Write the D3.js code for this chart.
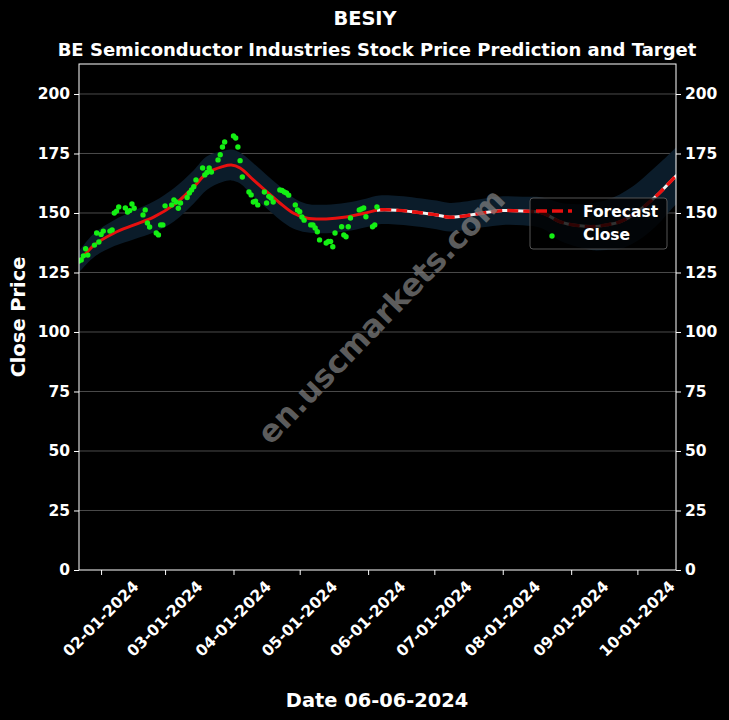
<!DOCTYPE html>
<html>
<head>
<meta charset="utf-8">
<script src="https://cdn.jsdelivr.net/npm/d3@7"></script>
<style>
  body { margin: 0; background: #000; }
  svg { display: block; }
  text { font-family: "DejaVu Sans", sans-serif; font-weight: bold; fill: #fff; }
</style>
</head>
<body>
<svg id="chart" width="729" height="720"></svg>
<script>
// observed closes (trading days)
const closeDates = [
  "2024-01-22","2024-01-23","2024-01-24","2024-01-25","2024-01-26","2024-01-29","2024-01-30","2024-01-31",
  "2024-02-01","2024-02-02","2024-02-05","2024-02-06","2024-02-07","2024-02-08","2024-02-09","2024-02-12",
  "2024-02-13","2024-02-14","2024-02-15","2024-02-16","2024-02-20","2024-02-21","2024-02-22","2024-02-23",
  "2024-02-26","2024-02-27","2024-02-28","2024-02-29",
  "2024-03-01","2024-03-04","2024-03-05","2024-03-06","2024-03-07","2024-03-08","2024-03-11","2024-03-12",
  "2024-03-13","2024-03-14","2024-03-15","2024-03-18","2024-03-19","2024-03-20","2024-03-21","2024-03-22",
  "2024-03-25","2024-03-26","2024-03-27","2024-03-28",
  "2024-04-01","2024-04-02","2024-04-03","2024-04-04","2024-04-05","2024-04-08","2024-04-09","2024-04-10",
  "2024-04-11","2024-04-12","2024-04-15","2024-04-16","2024-04-17","2024-04-18","2024-04-19","2024-04-22",
  "2024-04-23","2024-04-24","2024-04-25","2024-04-26","2024-04-29","2024-04-30",
  "2024-05-01","2024-05-02","2024-05-03","2024-05-06","2024-05-07","2024-05-08","2024-05-09","2024-05-10",
  "2024-05-13","2024-05-14","2024-05-15","2024-05-16","2024-05-17","2024-05-20","2024-05-21","2024-05-22",
  "2024-05-23","2024-05-24","2024-05-28","2024-05-29","2024-05-30","2024-05-31",
  "2024-06-03","2024-06-04","2024-06-05"
];
const closeValues = [
  129.8, 130.3, 132, 135, 132.3, 136.5, 141.6, 137.8,
  141, 142.4, 142.4, 142.9, 150, 150.8, 152.5, 152.1, 150.4, 151, 153.8, 152, 149.2, 151.3, 145.8, 144.1,
  141.6, 140.8, 145, 145,
  153, 153.4, 155.5, 154.6, 152, 154.2, 156.5, 158.4, 159.7, 161, 163.9, 168.9, 166, 167, 168.9, 167.2,
  172.3, 174.5, 177.7, 179.8,
  182.4, 181.5, 177.7, 172, 165.1, 158.8, 157.6, 154.6, 155, 153.4, 158.8, 154.2, 157, 156.3, 154.6, 159.7,
  159.5, 158.8, 158.4, 157.5, 153.4, 151.3,
  150.5, 148.3, 147, 145, 145, 143.7, 142.1, 138.7, 137.4, 138, 138, 135.8, 141.6, 144.2, 140.8, 140,
  144.2, 147.9, 151.3, 151.7, 152.1, 148.4,
  144.2, 145, 152.5
];

// smoothed fit + forecast
const forecastDates = [
  "2024-01-22","2024-01-29","2024-02-07","2024-02-16","2024-02-25","2024-03-05","2024-03-14","2024-03-20",
  "2024-03-27","2024-03-31","2024-04-04","2024-04-10","2024-04-16","2024-04-22","2024-04-28","2024-05-04",
  "2024-05-13","2024-05-22","2024-05-31","2024-06-06","2024-06-15","2024-06-23","2024-07-02","2024-07-08",
  "2024-07-14","2024-07-23","2024-08-01","2024-08-10","2024-08-19","2024-08-27","2024-09-04","2024-09-11",
  "2024-09-17","2024-09-23","2024-09-29","2024-10-05","2024-10-11","2024-10-17","2024-10-19"
];
const forecastValues = [
  129.5, 136.6, 141.6, 145, 148.4, 153.4, 161, 166.8,
  169.5, 170.2, 168.9, 163.9, 159, 154.2, 150, 147.9,
  147.5, 148.3, 150, 151.3, 151.1, 150.3, 149.2, 148.2,
  148.7, 150, 151, 150.8, 150, 146.3, 144.7, 144.3,
  145, 146.3, 149.2, 153.4, 158.4, 164.2, 166
];
const bandHalf = [
  4.5, 5, 5.5, 6, 6.5, 7, 7, 7,
  6.5, 6.5, 6.5, 7, 7, 7, 6.5, 6,
  6, 6, 6, 6, 6, 6, 6, 6,
  6, 6, 6, 6, 6.5, 8, 9, 10,
  10.5, 11.5, 12, 12.5, 12.5, 12, 12
];
const splitDate = "2024-06-05";

const yTicks = [0, 25, 50, 75, 100, 125, 150, 175, 200];
const xTickDates = ["2024-02-01","2024-03-01","2024-04-01","2024-05-01","2024-06-01",
                    "2024-07-01","2024-08-01","2024-09-01","2024-10-01"];
const xTickLabels = ["02-01-2024","03-01-2024","04-01-2024","05-01-2024","06-01-2024",
                     "07-01-2024","08-01-2024","09-01-2024","10-01-2024"];

const parse = d3.utcParse("%Y-%m-%d");
const margin = { top: 64, right: 53, bottom: 150, left: 79 };
const W = 729, H = 720;
const plotW = W - margin.left - margin.right;
const plotH = H - margin.top - margin.bottom;

const svg = d3.select("#chart");
svg.append("rect").attr("width", W).attr("height", H).attr("fill", "#000");

const x = d3.scaleUtc()
  .domain([parse("2024-01-22"), new Date(Date.UTC(2024, 9, 18, 12))])
  .range([margin.left, margin.left + plotW]);
const y = d3.scaleLinear()
  .domain([0, 212.6])
  .range([margin.top + plotH, margin.top]);

const defs = svg.append("defs");
defs.append("clipPath").attr("id", "plotClip").append("rect")
  .attr("x", margin.left).attr("y", margin.top).attr("width", plotW).attr("height", plotH);
const xs = x(parse(splitDate));
defs.append("clipPath").attr("id", "histClip").append("rect")
  .attr("x", margin.left).attr("y", margin.top).attr("width", xs - margin.left).attr("height", plotH);
defs.append("clipPath").attr("id", "fcClip").append("rect")
  .attr("x", xs).attr("y", margin.top).attr("width", margin.left + plotW - xs).attr("height", plotH);

// grid
svg.append("g").selectAll("line").data(yTicks.slice(1)).enter().append("line")
  .attr("x1", margin.left).attr("x2", margin.left + plotW)
  .attr("y1", d => y(d)).attr("y2", d => y(d))
  .attr("stroke", "#4a4a4a").attr("stroke-width", 1);

const fc = forecastDates.map((d, i) => ({ date: parse(d), value: forecastValues[i], half: bandHalf[i] }));
const plot = svg.append("g").attr("clip-path", "url(#plotClip)");

// confidence band
plot.append("path").datum(fc)
  .attr("fill", "#0b1c2a")
  .attr("d", d3.area().curve(d3.curveCatmullRom)
    .x(d => x(d.date)).y0(d => y(d.value - d.half)).y1(d => y(d.value + d.half)));

const line = d3.line().curve(d3.curveCatmullRom).x(d => x(d.date)).y(d => y(d.value));

// fitted line over history
plot.append("path").datum(fc).attr("clip-path", "url(#histClip)")
  .attr("fill", "none").attr("stroke", "#e8100f").attr("stroke-width", 3).attr("d", line);

// forecast: white under red dashes
const fg = plot.append("g").attr("clip-path", "url(#fcClip)");
fg.append("path").datum(fc).attr("fill", "none").attr("stroke", "#f2f2f2").attr("stroke-width", 3).attr("d", line);
fg.append("path").datum(fc).attr("fill", "none").attr("stroke", "#e8100f").attr("stroke-width", 3.4)
  .attr("stroke-dasharray", "11,5").attr("d", line);

// close points
plot.append("g").selectAll("circle").data(closeDates).enter().append("circle")
  .attr("cx", d => x(parse(d)))
  .attr("cy", (d, i) => y(closeValues[i]))
  .attr("r", 2.7).attr("fill", "#14f014");

// watermark
svg.append("text")
  .attr("x", 381).attr("y", 316)
  .attr("text-anchor", "middle").attr("dominant-baseline", "central")
  .attr("transform", "rotate(-46,381,316)")
  .style("font-size", "31px").style("fill", "#808080").style("opacity", 0.72)
  .text("en.uscmarkets.com");

// axes frame
svg.append("rect").attr("x", margin.left).attr("y", margin.top).attr("width", plotW).attr("height", plotH)
  .attr("fill", "none").attr("stroke", "#fff").attr("stroke-width", 1);

const yLeft = svg.append("g").attr("transform", `translate(${margin.left},0)`)
  .call(d3.axisLeft(y).tickValues(yTicks).tickSize(5).tickPadding(4));
const yRight = svg.append("g").attr("transform", `translate(${margin.left + plotW},0)`)
  .call(d3.axisRight(y).tickValues(yTicks).tickSize(5).tickPadding(4));
[yLeft, yRight].forEach(g => {
  g.select(".domain").remove();
  g.selectAll("line").attr("stroke", "#fff");
  g.selectAll("text").style("font-size", "15.5px").style("font-family", "DejaVu Sans").style("font-weight", "bold").attr("fill", "#fff");
});

const xAxis = svg.append("g").attr("transform", `translate(0,${margin.top + plotH})`)
  .call(d3.axisBottom(x).tickValues(xTickDates.map(parse)).tickSize(5).tickFormat(""));
xAxis.select(".domain").remove();
xAxis.selectAll("line").attr("stroke", "#fff");

svg.append("g").selectAll("text").data(xTickDates).enter().append("text")
  .attr("x", d => x(parse(d))).attr("y", 619)
  .attr("text-anchor", "middle").attr("dominant-baseline", "central")
  .attr("transform", d => `rotate(-45,${x(parse(d))},619)`)
  .style("font-size", "15.5px")
  .text((d, i) => xTickLabels[i]);

// titles
svg.append("text").attr("x", 365).attr("y", 25).attr("text-anchor", "middle").style("font-size", "19.4px").text("BESIY");
svg.append("text").attr("x", 377).attr("y", 56).attr("text-anchor", "middle").style("font-size", "18px")
  .text("BE Semiconductor Industries Stock Price Prediction and Target");
svg.append("text").attr("x", 377).attr("y", 707).attr("text-anchor", "middle").style("font-size", "19.4px").text("Date 06-06-2024");
svg.append("text").attr("transform", "translate(25,317) rotate(-90)").attr("text-anchor", "middle")
  .style("font-size", "19.4px").text("Close Price");

// legend
const lg = svg.append("g");
lg.append("rect").attr("x", 530).attr("y", 198).attr("width", 137).attr("height", 51).attr("rx", 3)
  .attr("fill", "#000").attr("fill-opacity", 0.8).attr("stroke", "#555").attr("stroke-width", 1);
lg.append("line").attr("x1", 536).attr("x2", 572).attr("y1", 211).attr("y2", 211)
  .attr("stroke", "#e8100f").attr("stroke-width", 3.4).attr("stroke-dasharray", "11,5");
lg.append("text").attr("x", 583).attr("y", 216.5).style("font-size", "15.5px").text("Forecast");
lg.append("circle").attr("cx", 552).attr("cy", 236).attr("r", 2.7).attr("fill", "#14f014");
lg.append("text").attr("x", 583).attr("y", 240).style("font-size", "15.5px").text("Close");
</script>
</body>
</html>
